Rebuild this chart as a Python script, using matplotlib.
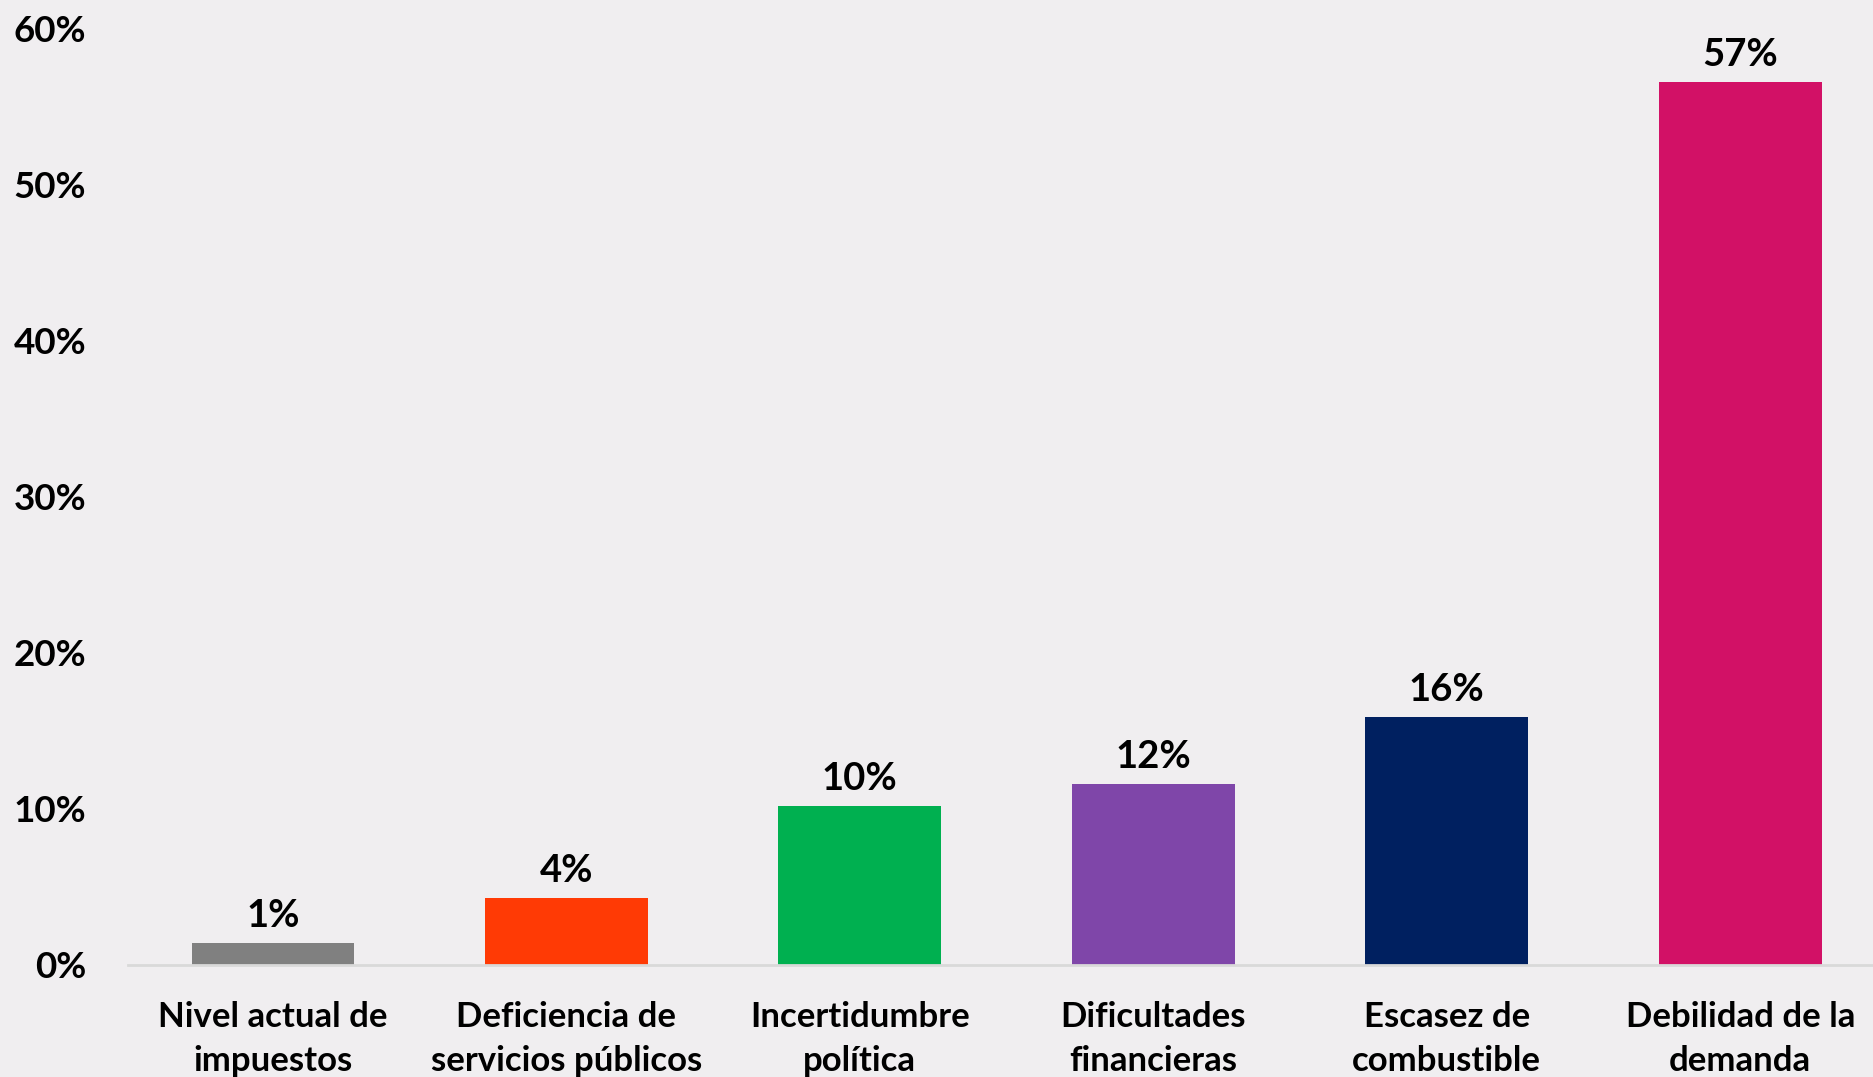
import matplotlib
matplotlib.use("Agg")
import matplotlib.pyplot as plt

# Obstáculos principales (% de respuestas)
categorias = ["Nivel actual de\nimpuestos", "Deficiencia de\nservicios públicos",
              "Incertidumbre\npolítica", "Dificultades\nfinancieras",
              "Escasez de\ncombustible", "Debilidad de la\ndemanda"]
valores = [1.4, 4.3, 10.2, 11.6, 15.9, 56.6]
colores = ["#808080", "#ff3a05", "#00b050", "#7f46a9", "#002060", "#d21166"]

fondo = "#f0eef0"
plt.rcParams["font.family"] = ["Lato", "DejaVu Sans"]
plt.rcParams["font.weight"] = "bold"

fig = plt.figure(figsize=(18.74, 10.77), dpi=100, facecolor=fondo)
ax = fig.add_axes([128 / 1874, 1 - 965 / 1077, 1 - 128 / 1874, (965 - 29) / 1077])
ax.set_facecolor(fondo)

x = list(range(len(categorias)))
barras = ax.bar(x, valores, width=0.555, color=colores, zorder=2)

for b, v in zip(barras, valores):
    ax.annotate(f"{v:.0f}%", (b.get_x() + b.get_width() / 2, v),
                xytext=(0, 7), textcoords="offset points",
                ha="center", va="bottom", fontsize=27.5, fontweight="bold")

ax.set_xlim(-0.494, 5.456)
ax.set_ylim(0, 60)
ax.set_yticks(range(0, 61, 10))
ax.set_yticklabels([f"{t}%" for t in range(0, 61, 10)], fontsize=26.5, fontweight="bold")
ax.set_xticks(x)
ax.set_xticklabels(categorias, fontsize=25, fontweight="bold", linespacing=1.45)

for lado in ["top", "right", "left"]:
    ax.spines[lado].set_visible(False)
ax.spines["bottom"].set_color("#d9d9d9")
ax.spines["bottom"].set_linewidth(2)
ax.tick_params(axis="y", length=0, pad=30)
ax.tick_params(axis="x", length=0, pad=26)

fig.savefig("out.png", dpi=100, facecolor=fondo)
